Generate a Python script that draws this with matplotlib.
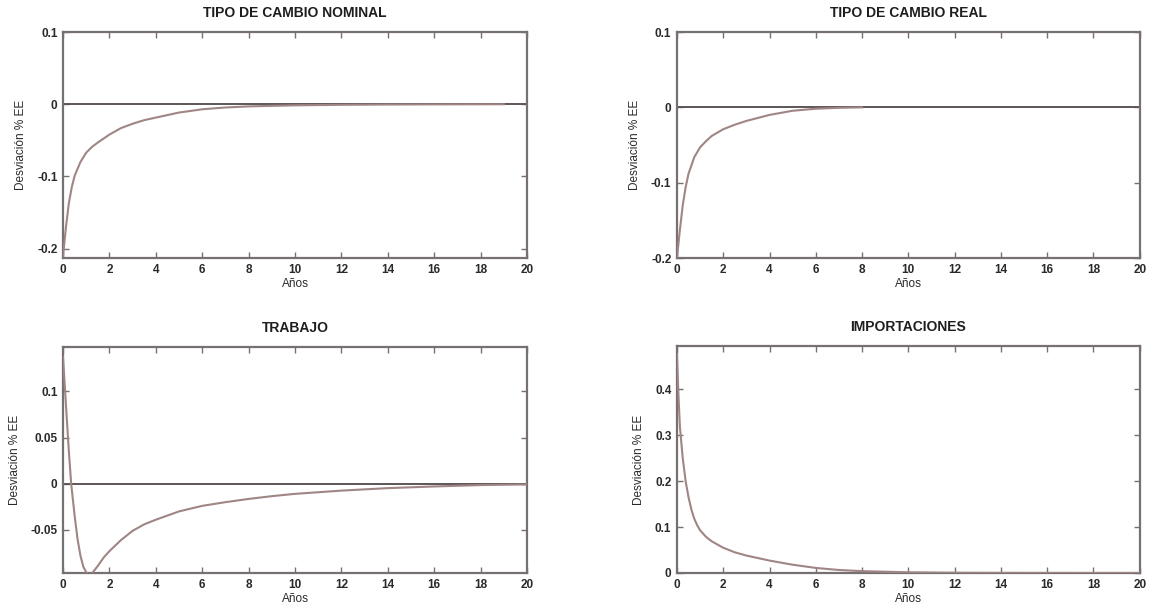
import matplotlib
matplotlib.use("Agg")
import matplotlib.pyplot as plt
from matplotlib.ticker import FixedLocator, FixedFormatter

plt.rcParams['font.family'] = ['Liberation Sans', 'DejaVu Sans']

# ---------------- data ----------------
titles = ["TIPO DE CAMBIO NOMINAL", "TIPO DE CAMBIO REAL", "TRABAJO", "IMPORTACIONES"]
x_label = "Años"
y_label = "Desviación % EE"
x_ticks = [0, 2, 4, 6, 8, 10, 12, 14, 16, 18, 20]

# Tipo de cambio nominal
nom_x = [0, 0.125, 0.25, 0.375, 0.5, 0.75, 1.0, 1.25, 1.5, 2, 2.5, 3, 3.5, 4, 5, 6, 7, 8, 10, 12, 14, 16, 19]
nom_y = [-0.21, -0.170, -0.137, -0.115, -0.099, -0.080, -0.067, -0.059, -0.053, -0.042, -0.033,
         -0.027, -0.022, -0.0185, -0.0115, -0.007, -0.0045, -0.003, -0.0015, -0.0008, -0.0004,
         -0.0002, 0.0]
nom_yticks = [-0.2, -0.1, 0, 0.1]
nom_ylabels = ["-0.2", "-0.1", "0", "0.1"]
nom_ylim = (-0.213, 0.1)

# Tipo de cambio real
real_x = [0, 0.125, 0.25, 0.375, 0.5, 0.75, 1.0, 1.25, 1.5, 2, 2.5, 3, 4, 5, 6, 7, 8]
real_y = [-0.2, -0.163, -0.130, -0.106, -0.088, -0.066, -0.053, -0.045, -0.038, -0.029, -0.023,
          -0.018, -0.010, -0.0045, -0.0018, -0.0006, 0.0]
real_yticks = [-0.2, -0.1, 0, 0.1]
real_ylabels = ["-0.2", "-0.1", "0", "0.1"]
real_ylim = (-0.2, 0.1)

# Trabajo
lab_x = [0, 0.125, 0.25, 0.35, 0.5, 0.625, 0.75, 0.875, 1.0, 1.125, 1.25, 1.5, 1.75, 2, 2.5, 3,
         3.5, 4, 5, 6, 7, 8, 9, 10, 12, 14, 16, 18, 20]
lab_y = [0.137, 0.085, 0.035, 0.0, -0.035, -0.060, -0.078, -0.090, -0.096, -0.099, -0.097,
         -0.089, -0.080, -0.073, -0.061, -0.051, -0.044, -0.039, -0.030, -0.024, -0.020,
         -0.0165, -0.0135, -0.011, -0.0075, -0.0048, -0.003, -0.0015, -0.0008]
lab_yticks = [-0.05, 0, 0.05, 0.1]
lab_ylabels = ["-0.05", "0", "0.05", "0.1"]
lab_ylim = (-0.0967, 0.148)

# Importaciones
imp_x = [0, 0.0625, 0.125, 0.25, 0.375, 0.5, 0.625, 0.75, 0.875, 1.0, 1.25, 1.5, 2, 2.5, 3, 4,
         5, 6, 7, 8, 10, 12, 14, 16, 18, 20]
imp_y = [0.477, 0.39, 0.32, 0.25, 0.20, 0.165, 0.138, 0.118, 0.104, 0.093, 0.079, 0.069, 0.055,
         0.045, 0.038, 0.027, 0.018, 0.011, 0.0065, 0.004, 0.0015, 0.0005, 0.0002, 0.0001, 0.0, 0.0]
imp_yticks = [0, 0.1, 0.2, 0.3, 0.4]
imp_ylabels = ["0", "0.1", "0.2", "0.3", "0.4"]
imp_ylim = (0, 0.495)

# ---------------- style ----------------
spine_c = "#767070"
curve_c = "#a08585"
zero_c = "#5e5656"
text_c = "#2a2a2a"

fig = plt.figure(figsize=(11.57, 6.14), dpi=100)
fig.patch.set_facecolor("white")

positions = [
    (0.0545, 0.5798, 0.401, 0.368),
    (0.5851, 0.5798, 0.400, 0.368),
    (0.0545, 0.0668, 0.401, 0.368),
    (0.5851, 0.0668, 0.400, 0.370),
]

panels = [
    (nom_x, nom_y, nom_yticks, nom_ylabels, nom_ylim, True),
    (real_x, real_y, real_yticks, real_ylabels, real_ylim, True),
    (lab_x, lab_y, lab_yticks, lab_ylabels, lab_ylim, True),
    (imp_x, imp_y, imp_yticks, imp_ylabels, imp_ylim, False),
]

for pos, title, (xs, ys, yt, yl, ylim, zline) in zip(positions, titles, panels):
    ax = fig.add_axes(pos)
    if zline:
        ax.plot([0, 20], [0, 0], color=zero_c, lw=1.4, zorder=2)
    ax.plot(xs, ys, color=curve_c, lw=1.5, zorder=3)
    ax.set_xlim(0, 20)
    ax.set_ylim(*ylim)
    ax.xaxis.set_major_locator(FixedLocator(x_ticks))
    ax.yaxis.set_major_locator(FixedLocator(yt))
    ax.yaxis.set_major_formatter(FixedFormatter(yl))
    ax.tick_params(direction="in", length=4, width=1.0, color=spine_c,
                   top=True, right=True, labelsize=8.5, labelcolor=text_c, pad=4)
    for lbl in ax.get_xticklabels() + ax.get_yticklabels():
        lbl.set_fontweight("semibold")
    for s in ax.spines.values():
        s.set_color(spine_c)
        s.set_linewidth(1.6)
    ax.set_title(title, fontsize=10, fontweight="bold", color="#1e1e1e", pad=11)
    ax.set_xlabel(x_label, fontsize=8.5, color=text_c, labelpad=2)
    ax.set_ylabel(y_label, fontsize=8.5, color=text_c, labelpad=7)

fig.savefig("out.png", dpi=100, facecolor="white")
